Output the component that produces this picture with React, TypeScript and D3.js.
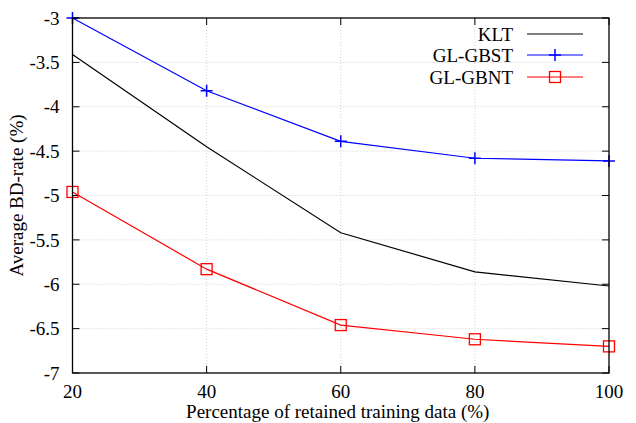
import * as d3 from "d3";
import React, { useEffect, useRef } from "react";

const xValues = [20, 40, 60, 80, 100];
const kltValues = [-3.41, -4.45, -5.42, -5.86, -6.02];
const gbstValues = [-3.0, -3.82, -4.39, -4.58, -4.61];
const gbntValues = [-4.96, -5.83, -6.46, -6.62, -6.7];
const yTicks = [-3, -3.5, -4, -4.5, -5, -5.5, -6, -6.5, -7];
const seriesNames = ["KLT", "GL-GBST", "GL-GBNT"];

const FONT = "'Liberation Serif', 'DejaVu Serif', serif";
const FS = 19;

const App: React.FC = () => {
  const svgRef = useRef<SVGSVGElement | null>(null);

  useEffect(() => {
    const svg = d3.select(svgRef.current);
    svg.selectAll("*").remove();

    const width = 636;
    const height = 423;
    const margin = { top: 18, right: 27, bottom: 50, left: 72.5 };

    const x = d3.scaleLinear().domain([20, 100]).range([margin.left, width - margin.right]);
    const y = d3.scaleLinear().domain([-7, -3]).range([height - margin.bottom, margin.top]);

    const x0 = x.range()[0];
    const x1 = x.range()[1];
    const y0 = y.range()[0];
    const y1 = y.range()[1];

    // grid
    const grid = svg.append("g").attr("stroke", "#c4c4c4").attr("stroke-dasharray", "1,2").attr("stroke-width", 0.8);
    xValues.slice(1, -1).forEach((v) => {
      grid.append("line").attr("x1", x(v)).attr("x2", x(v)).attr("y1", y0).attr("y2", y1);
    });
    yTicks.slice(1, -1).forEach((v) => {
      grid.append("line").attr("x1", x0).attr("x2", x1).attr("y1", y(v)).attr("y2", y(v));
    });

    // ticks (mirrored, inward)
    const ticks = svg.append("g").attr("stroke", "#000").attr("stroke-width", 1);
    const tl = 7;
    xValues.forEach((v) => {
      ticks.append("line").attr("x1", x(v)).attr("x2", x(v)).attr("y1", y0).attr("y2", y0 - tl);
      ticks.append("line").attr("x1", x(v)).attr("x2", x(v)).attr("y1", y1).attr("y2", y1 + tl);
    });
    yTicks.forEach((v) => {
      ticks.append("line").attr("x1", x0).attr("x2", x0 + tl).attr("y1", y(v)).attr("y2", y(v));
      ticks.append("line").attr("x1", x1).attr("x2", x1 - tl).attr("y1", y(v)).attr("y2", y(v));
    });

    // tick labels
    svg
      .append("g")
      .selectAll("text")
      .data(xValues)
      .join("text")
      .attr("x", (d) => x(d))
      .attr("y", y0 + 25)
      .attr("text-anchor", "middle")
      .attr("font-family", FONT)
      .attr("font-size", FS)
      .text((d) => String(d));

    svg
      .append("g")
      .selectAll("text")
      .data(yTicks)
      .join("text")
      .attr("x", x0 - 13)
      .attr("y", (d) => y(d))
      .attr("dy", "0.35em")
      .attr("text-anchor", "end")
      .attr("font-family", FONT)
      .attr("font-size", FS)
      .text((d) => String(d));

    // axis titles
    svg
      .append("text")
      .attr("x", (x0 + x1) / 2 - 3)
      .attr("y", 418)
      .attr("text-anchor", "middle")
      .attr("font-family", FONT)
      .attr("font-size", FS)
      .text("Percentage of retained training data (%)");

    svg
      .append("text")
      .attr("transform", `translate(23,${(y0 + y1) / 2}) rotate(-90)`)
      .attr("text-anchor", "middle")
      .attr("font-family", FONT)
      .attr("font-size", FS)
      .text("Average BD-rate (%)");

    const line = d3
      .line<number>()
      .x((_, i) => x(xValues[i]))
      .y((d) => y(d));

    const colors = ["#000", "#0000ff", "#ff0000"];
    const allData = [kltValues, gbstValues, gbntValues];

    const drawMarker = (g: d3.Selection<SVGGElement, unknown, null, undefined>, kind: number, cx: number, cy: number) => {
      if (kind === 1) {
        g.append("path")
          .attr("d", `M${cx - 6},${cy}H${cx + 6}M${cx},${cy - 6}V${cy + 6}`)
          .attr("stroke", colors[1])
          .attr("stroke-width", 1.5)
          .attr("fill", "none");
      } else if (kind === 2) {
        g.append("rect")
          .attr("x", cx - 5.5)
          .attr("y", cy - 5.5)
          .attr("width", 11)
          .attr("height", 11)
          .attr("stroke", colors[2])
          .attr("stroke-width", 1.3)
          .attr("fill", "none");
      }
    };

    allData.forEach((vals, k) => {
      const g = svg.append("g");
      g.append("path")
        .datum(vals)
        .attr("fill", "none")
        .attr("stroke", colors[k])
        .attr("stroke-width", 1.2)
        .attr("d", line);
      vals.forEach((v, i) => drawMarker(g, k, x(xValues[i]), y(v)));
    });

    // frame
    svg
      .append("rect")
      .attr("x", x0)
      .attr("y", y1)
      .attr("width", x1 - x0)
      .attr("height", y0 - y1)
      .attr("fill", "none")
      .attr("stroke", "#000")
      .attr("stroke-width", 1.3);

    // legend
    const legendY = [34, 55, 77];
    seriesNames.forEach((name, k) => {
      const g = svg.append("g");
      g.append("text")
        .attr("x", 513)
        .attr("y", legendY[k])
        .attr("dy", "0.35em")
        .attr("text-anchor", "end")
        .attr("font-family", FONT)
        .attr("font-size", FS)
        .text(name);
      g.append("line")
        .attr("x1", 527)
        .attr("x2", 583)
        .attr("y1", legendY[k])
        .attr("y2", legendY[k])
        .attr("stroke", colors[k])
        .attr("stroke-width", 1.2);
      drawMarker(g, k, 555, legendY[k]);
    });
  }, []);

  return (
    <svg
      ref={svgRef}
      width={636}
      height={423}
      style={{ position: "absolute", left: 0, top: 0, background: "#fff" }}
    ></svg>
  );
};

export default App;
